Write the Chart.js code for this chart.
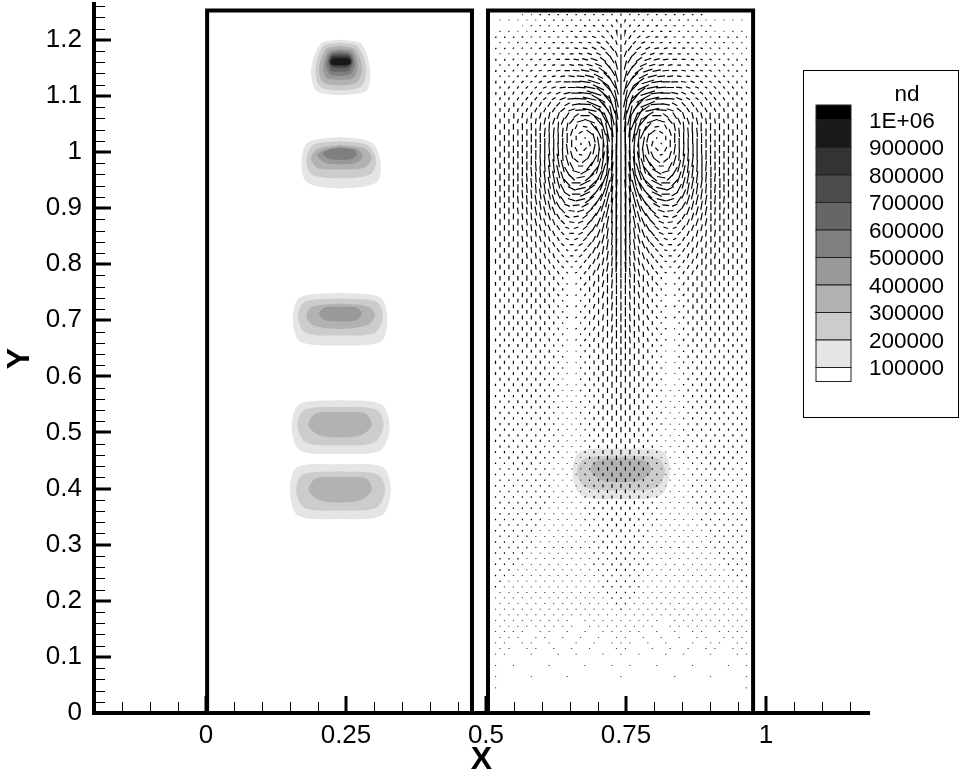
<!DOCTYPE html>
<html><head><meta charset="utf-8">
<style>html,body{margin:0;padding:0;background:#fff}canvas{display:block}</style>
<script src="https://cdn.jsdelivr.net/npm/chart.js@4"></script></head>
<body><canvas id="c" width="965" height="776"></canvas>
<script>
// Axis ticks (data units)
const xMajorTicks=[0,0.25,0.5,0.75,1];
const yMajorTicks=[0,0.1,0.2,0.3,0.4,0.5,0.6,0.7,0.8,0.9,1,1.1,1.2];
const xMinorTicks=[-0.15,-0.1,-0.05,0.05,0.1,0.15,0.2,0.3,0.35,0.4,0.45,0.55,0.6,0.65,0.7,0.8,0.85,0.9,0.95,1.05,1.1,1.15];
const yMinorTicks=[0.02,0.04,0.06,0.08,0.12,0.14,0.16,0.18,0.22,0.24,0.26,0.28,0.32,0.34,0.36,0.38,0.42,0.44,0.46,0.48,0.52,0.54,0.56,0.58,0.62,0.64,0.66,0.68,0.72,0.74,0.76,0.78,0.82,0.84,0.86,0.88,0.92,0.94,0.96,0.98,1.02,1.04,1.06,1.08,1.12,1.14,1.16,1.18,1.22,1.24,1.26];
// Zone frames
const frameLeftX=[0.002,0.475,0.475,0.002,0.002];
const frameRightX=[0.5036,0.977,0.977,0.5036,0.5036];
const frameY=[0,0,1.252,1.252,0];
// Legend
const legendTitle="nd";
const legendLabels=["1E+06","900000","800000","700000","600000","500000","400000","300000","200000","100000"];
const legendColors=["#000000","#191919","#333333","#4c4c4c","#666666","#7f7f7f","#999999","#b2b2b2","#cccccc","#e5e5e5","#ffffff"];
// Contour levels, outermost first: x,y,x,y,...  colours are the legend's
const contourTop=[
[.239,1.200,.277,1.193,.293,1.149,.2875,1.110,.257,1.1025,.221,1.1025,.196,1.110,.188,1.149,.205,1.193],
[.239,1.195,.271,1.188,.286,1.149,.2786,1.118,.257,1.111,.221,1.111,.202,1.118,.1955,1.149,.209,1.188],
[.239,1.190,.266,1.183,.2786,1.149,.271,1.126,.257,1.120,.221,1.120,.207,1.126,.202,1.149,.214,1.183],
[.239,1.184,.2625,1.179,.271,1.152,.264,1.133,.250,1.129,.229,1.129,.214,1.133,.209,1.152,.218,1.179],
[.239,1.181,.259,1.176,.266,1.156,.259,1.140,.246,1.136,.232,1.136,.220,1.140,.214,1.156,.221,1.176],
[.239,1.177,.257,1.174,.2625,1.160,.255,1.145,.245,1.143,.234,1.143,.223,1.145,.218,1.160,.223,1.174],
[.239,1.174,.255,1.172,.261,1.161,.254,1.151,.243,1.149,.236,1.149,.225,1.151,.220,1.161,.225,1.172],
[.239,1.170,.255,1.169,.259,1.161,.254,1.154,.239,1.153,.225,1.154,.221,1.161,.225,1.169],
[.241,1.167,.255,1.166,.259,1.161,.255,1.156,.241,1.155,.225,1.156,.223,1.161,.227,1.166]];
const contourSecond=[
[.239,1.027,.296,1.017,.3116,.985,.305,.946,.239,.935,.180,.946,.1705,.985,.182,1.017],
[.239,1.019,.289,1.012,.304,.985,.293,.960,.239,.953,.189,.960,.179,.985,.191,1.012],
[.239,1.013,.284,1.006,.296,.988,.282,.972,.239,.969,.198,.972,.1875,.990,.200,1.006],
[.239,1.010,.271,1.0045,.280,.992,.268,.981,.239,.978,.2125,.981,.198,.994,.2125,1.0045],
[.239,1.007,.2625,1.0045,.270,.997,.261,.988,.239,.986,.220,.988,.209,.997,.221,1.0045]];
const contourThird=[
[.239,.749,.311,.741,.324,.703,.3125,.662,.239,.655,.168,.662,.155,.703,.168,.741],
[.239,.739,.304,.7335,.316,.707,.302,.678,.239,.673,.177,.678,.164,.707,.177,.7335],
[.239,.730,.289,.7246,.302,.7086,.2875,.691,.239,.6845,.191,.691,.179,.7086,.191,.7246],
[.239,.7246,.268,.723,.2786,.712,.268,.700,.239,.698,.2125,.700,.202,.712,.2125,.723]];
const contourFourth=[
[.239,.558,.314,.550,.328,.507,.311,.468,.239,.462,.168,.468,.153,.507,.166,.550],
[.239,.546,.304,.541,.317,.514,.300,.482,.239,.477,.179,.482,.163,.514,.177,.541],
[.239,.5365,.284,.534,.296,.514,.2786,.496,.239,.491,.200,.496,.183,.514,.196,.534]];
const contourFifth=[
[.239,.444,.316,.438,.330,.3966,.314,.352,.239,.346,.164,.352,.150,.3966,.1625,.438],
[.239,.431,.307,.425,.320,.3966,.304,.366,.239,.361,.175,.366,.161,.3966,.173,.425],
[.239,.4207,.286,.418,.296,.398,.2786,.3806,.239,.375,.200,.3806,.183,.398,.196,.418]];
const contourRight=[
[.741,.4715,.816,.466,.8286,.429,.8125,.388,.741,.3815,.670,.388,.6545,.429,.668,.466],
[.741,.459,.807,.454,.8196,.429,.804,.402,.741,.3966,.679,.402,.6625,.429,.677,.454],
[.741,.454,.782,.450,.796,.434,.7786,.416,.741,.411,.7036,.416,.686,.434,.700,.450]];
const contourSets=[contourTop,contourSecond,contourThird,contourFourth,contourFifth,contourRight];
const contourFirstLevel=[9,9,9,9,9,9];
// Velocity field in the right zone, read by eye. Columns go out from the symmetry axis; the left side mirrors.
const arrowAxis=0.741;
const arrowScale=1.35;
const arrowOffsets=[0,.016,.032,.048,.064,.08,.096,.112,.128,.144,.16,.176,.192,.208,.224];
const arrowYs=[1.245,1.225,1.205,1.185,1.165,1.145,1.125,1.105,1.085,1.065,1.045,1.025,1.005,.985,.965,.945,.925,.905,.885,.865,.845,.825,.805,.785,.765,.745,.725,.705,.685,.665,.645,.625,.605,.585,.565,.545,.525,.505,.485,.465,.445,.425,.405,.385,.365,.345,.325,.305,.285,.265,.245,.225,.205,.185,.165,.145,.125,.105,.085,.065,.045];
const arrowV=[
[-3,-2,-1,-1,0,0,0,0,0,0,0,0,0,0,0],
[-5,-3,-2,-1,-1,0,0,0,0,0,0,0,0,0,0],
[-7,-5,-3,-2,-1,-1,0,0,0,0,0,1,1,1,1],
[-10,-7,-4,-3,-1,-1,0,0,0,1,1,1,1,1,1],
[-14,-10,-6,-3,-2,-1,0,0,1,1,1,1,2,2,2],
[-18,-13,-8,-4,-2,-1,0,1,1,1,2,2,2,2,2],
[-22,-17,-10,-5,-2,0,0,1,2,2,2,3,3,3,3],
[-26,-20,-14,-6,-2,0,2,3,3,3,4,4,4,4,3],
[-28,-24,-17,-8,-1,2,4,5,6,6,6,5,5,5,4],
[-30,-26,-20,-10,0,5,8,9,9,8,8,7,6,6,5],
[-30,-28,-22,-11,-1,6,11,13,13,11,10,9,8,7,6],
[-30,-28,-24,-12,-2,6,13,16,15,13,11,10,9,8,7],
[-30,-28,-24,-14,-4,6,14,18,16,14,12,11,10,9,7],
[-30,-28,-24,-15,-6,5,14,18,17,15,13,11,10,9,8],
[-28,-26,-22,-14,-7,3,12,17,17,15,13,12,10,9,8],
[-24,-24,-20,-12,-7,0,9,15,16,14,13,12,10,9,8],
[-22,-22,-18,-11,-6,0,5,12,14,14,12,11,10,9,8],
[-20,-20,-16,-10,-5,-1,3,9,12,12,11,10,9,8,8],
[-20,-18,-14,-9,-5,-1,3,7,10,10,10,9,8,8,7],
[-18,-17,-13,-9,-5,-2,2,6,8,9,9,8,8,7,7],
[-17,-16,-12,-8,-5,-2,2,5,7,8,8,8,7,7,6],
[-16,-14,-11,-8,-4,-1,2,5,7,7,8,7,7,6,6],
[-14,-13,-10,-7,-4,-1,2,4,6,7,7,7,6,6,6],
[-14,-13,-10,-7,-4,-1,2,4,6,6,7,6,6,6,5],
[-13,-12,-9,-7,-4,-1,1,4,5,6,6,6,6,5,5],
[-12,-11,-9,-6,-3,-1,1,3,5,6,6,6,5,5,5],
[-12,-11,-8,-6,-3,-1,1,3,5,5,6,5,5,5,5],
[-11,-10,-8,-6,-3,-1,1,3,4,5,5,5,5,5,5],
[-11,-10,-8,-5,-3,-1,1,3,4,5,5,5,5,5,4],
[-10,-9,-7,-5,-3,-1,1,3,4,4,5,5,4,4,4],
[-10,-9,-7,-5,-3,-1,1,2,4,4,4,4,4,4,4],
[-9,-9,-7,-5,-3,-1,1,2,3,4,4,4,4,4,4],
[-9,-8,-7,-5,-3,-1,1,2,3,4,4,4,4,4,4],
[-8,-8,-6,-4,-3,-1,1,2,3,4,4,4,4,4,3],
[-8,-7,-6,-4,-2,-1,1,2,3,3,4,4,3,3,3],
[-8,-7,-6,-4,-2,-1,1,2,3,3,3,3,3,3,3],
[-7,-7,-5,-4,-2,-1,1,2,3,3,3,3,3,3,3],
[-7,-6,-5,-4,-2,-1,1,2,3,3,3,3,3,3,3],
[-6,-6,-5,-3,-2,-1,1,2,2,3,3,3,3,3,3],
[-6,-6,-5,-3,-2,-1,1,2,2,3,3,3,3,3,2],
[-6,-5,-4,-3,-2,-1,1,1,2,2,3,3,3,2,2],
[-5,-5,-4,-3,-2,-1,1,1,2,2,2,2,2,2,2],
[-5,-5,-4,-3,-2,-1,1,1,2,2,2,2,2,2,2],
[-5,-4,-4,-3,-2,-1,1,1,2,2,2,2,2,2,2],
[-4,-4,-3,-3,-2,-1,1,1,1,2,2,2,2,2,2],
[-4,-4,-3,-2,-2,-1,1,1,1,2,2,2,2,2,2],
[-4,-3,-3,-2,-1,-1,1,1,1,1,2,2,2,2,2],
[-3,-3,-3,-2,-1,-1,1,1,1,1,2,2,2,2,2],
[-3,-3,-2,-2,-1,-1,1,1,1,1,1,2,2,2,2],
[-3,-3,-2,-2,-1,1,1,1,1,1,1,1,2,2,2],
[-2,-2,-2,-1,-1,1,1,1,1,1,1,1,1,2,2],
[-2,-2,-2,-1,-1,1,1,1,1,1,1,1,1,1,2],
[-2,-2,-1,-1,-1,1,1,1,1,1,1,1,1,1,1],
[-2,-1,-1,-1,-1,1,1,1,1,1,1,1,1,1,1],
[-1,-1,-1,-1,1,0,1,1,1,1,1,1,1,1,1],
[-1,-1,-1,0,1,0,1,0,1,1,0,1,1,1,1],
[-1,-1,0,-1,0,1,0,0,1,0,1,1,0,1,1],
[-1,0,-1,0,0,1,0,1,0,0,1,0,0,1,1],
[0,-1,0,0,1,0,0,0,1,0,0,0,1,0,1],
[-1,0,0,0,0,0,1,0,0,0,1,0,0,0,1],
[0,0,0,0,0,0,0,0,0,0,0,0,0,0,1]];
const arrowU=[
[0,-1,-2,-2,-2,-2,-2,-2,-2,-2,-1,-1,-1,-1,0],
[0,-2,-3,-3,-3,-3,-3,-2,-2,-2,-2,-1,-1,-1,0],
[0,-3,-4,-5,-4,-4,-3,-3,-3,-2,-2,-2,-1,-1,-1],
[0,-5,-6,-6,-6,-5,-4,-4,-3,-3,-2,-2,-2,-1,-1],
[0,-6,-8,-9,-8,-7,-6,-5,-4,-3,-3,-2,-2,-1,-1],
[0,-8,-11,-12,-11,-9,-7,-6,-5,-4,-3,-2,-2,-1,-1],
[0,-10,-14,-16,-14,-12,-9,-7,-5,-4,-3,-3,-2,-1,-1],
[0,-10,-17,-19,-17,-13,-9,-6,-5,-4,-3,-2,-2,-1,-1],
[0,-8,-15,-19,-16,-11,-7,-5,-4,-3,-2,-2,-1,-1,0],
[0,-6,-11,-15,-12,-7,-5,-3,-2,-2,-1,-1,-1,0,0],
[0,-3,-7,-9,-6,-3,-2,-1,-1,-1,0,0,0,0,0],
[0,-1,-3,-3,-1,0,0,0,0,0,0,0,0,0,0],
[0,1,1,3,4,3,2,1,1,0,0,0,0,0,0],
[0,2,4,8,8,6,4,3,2,1,0,0,0,0,0],
[0,3,7,11,12,10,7,4,2,1,1,0,0,0,0],
[0,3,8,13,14,12,8,4,3,2,1,1,0,0,0],
[0,2,7,11,13,11,8,5,3,2,1,1,0,0,0],
[0,2,5,8,9,9,7,5,3,2,1,1,0,0,0],
[0,1,4,6,7,7,6,4,3,2,1,1,0,0,0],
[0,1,3,5,6,6,5,4,3,2,1,1,0,0,0],
[0,1,3,4,5,5,4,3,2,2,1,1,0,0,0],
[0,1,2,4,4,4,3,3,2,1,1,0,0,0,0],
[0,1,2,3,3,3,3,2,2,1,1,0,0,0,0],
[0,1,2,3,3,3,2,2,2,1,1,0,0,0,0],
[0,1,2,2,3,2,2,2,1,1,0,0,0,0,0],
[0,1,2,2,2,2,2,2,1,1,0,0,0,0,0],
[0,1,1,2,2,2,2,1,1,1,0,0,0,0,0],
[0,1,1,2,2,2,2,1,1,1,0,0,0,0,0],
[0,1,1,2,2,2,1,1,1,0,0,0,0,0,0],
[0,1,1,1,2,2,1,1,1,0,0,0,0,0,0]];
// Second set of arrows: columns between those above, rows half a step lower, so the two sets interleave.
const arrowOffsetsB=[.008,.024,.04,.056,.072,.088,.104,.12,.136,.152,.168,.184,.2,.216];
const arrowYsB=[1.235,1.215,1.195,1.175,1.155,1.135,1.115,1.095,1.075,1.055,1.035,1.015,.995,.975,.955,.935,.915,.895,.875,.855,.835,.815,.795,.775,.755,.735,.715,.695,.675,.655,.635,.615,.595,.575,.555,.535,.515,.495,.475,.455,.435,.415,.395,.375,.355,.335,.315,.295,.275,.255,.235,.215,.195,.175,.155,.135,.115];
const arrowVB=[
[-2,-1,-1,0,0,0,0,0,0,0,0,0,0,0],
[-4,-2,-1,-1,0,0,0,0,0,0,0,0,1,1],
[-6,-4,-2,-1,-1,0,0,0,0,0,1,1,1,1],
[-8,-5,-3,-2,-1,0,0,0,1,1,1,1,1,1],
[-12,-8,-4,-2,-1,-1,0,1,1,1,1,2,2,2],
[-15,-10,-6,-3,-1,-1,1,1,1,2,2,2,2,2],
[-19,-13,-7,-3,-1,0,1,2,2,2,3,3,3,3],
[-23,-17,-10,-4,-1,1,3,3,3,4,4,4,4,4],
[-26,-20,-12,-4,1,3,5,6,6,6,5,5,5,5],
[-28,-23,-15,-5,3,7,9,9,9,8,7,6,6,6],
[-29,-25,-17,-6,3,9,12,13,12,10,9,8,8,7],
[-29,-26,-18,-7,2,10,15,16,14,12,10,9,9,8],
[-29,-26,-19,-9,1,10,16,17,15,13,11,10,9,8],
[-29,-26,-20,-10,0,10,16,18,16,14,12,10,9,8],
[-27,-24,-18,-10,-2,8,15,17,16,14,12,11,10,9],
[-24,-22,-16,-10,-3,5,12,16,15,13,12,11,10,9],
[-22,-20,-15,-9,-3,3,9,13,14,13,12,10,9,9],
[-20,-18,-13,-8,-3,1,6,11,12,12,10,9,9,8],
[-19,-16,-12,-7,-3,1,5,8,10,10,9,9,8,8],
[-18,-15,-11,-7,-3,0,4,7,9,9,9,8,8,7],
[-16,-14,-10,-6,-3,0,3,6,8,8,8,8,7,7],
[-15,-13,-9,-6,-3,0,3,6,7,8,8,7,7,6],
[-14,-12,-9,-6,-3,0,3,5,6,7,7,7,6,6],
[-14,-12,-9,-6,-3,0,3,5,6,6,7,6,6,6],
[-13,-11,-8,-6,-3,0,3,5,6,6,6,6,5,5],
[-12,-10,-8,-5,-2,0,2,4,6,6,6,5,5,5],
[-12,-10,-7,-5,-2,0,2,4,5,6,5,5,5,5],
[-11,-9,-7,-5,-2,0,2,4,5,5,5,5,5,5],
[-11,-9,-7,-4,-2,0,2,3,5,5,5,5,5,4],
[-10,-8,-6,-4,-2,0,2,3,4,5,5,4,4,4],
[-9,-8,-6,-4,-2,0,2,3,4,4,4,4,4,4],
[-9,-8,-6,-4,-2,0,2,3,4,4,4,4,4,4],
[-9,-7,-6,-4,-2,0,1,3,3,4,4,4,4,4],
[-8,-7,-5,-4,-2,1,1,3,3,4,4,4,4,3],
[-8,-7,-5,-3,-2,1,1,2,3,4,4,4,3,3],
[-7,-6,-5,-3,-2,1,1,2,3,3,3,3,3,3],
[-7,-6,-5,-3,-2,1,1,2,3,3,3,3,3,3],
[-6,-6,-4,-3,-1,1,1,2,3,3,3,3,3,3],
[-6,-5,-4,-3,-1,1,1,2,2,3,3,3,3,3],
[-6,-5,-4,-3,-1,1,1,2,2,3,3,3,3,2],
[-5,-5,-4,-2,-1,1,1,1,2,2,3,3,2,2],
[-5,-4,-3,-2,-1,1,1,1,2,2,2,2,2,2],
[-5,-4,-3,-2,-1,1,1,1,2,2,2,2,2,2],
[-4,-4,-3,-2,-1,1,1,1,2,2,2,2,2,2],
[-4,-3,-3,-2,-1,1,1,1,1,2,2,2,2,2],
[-4,-3,-2,-2,-1,1,1,1,1,2,2,2,2,2],
[-3,-3,-2,-1,-1,1,1,1,1,1,2,2,2,2],
[-3,-3,-2,-1,-1,1,1,1,1,1,2,2,2,2],
[-3,-2,-2,-1,-1,1,1,1,1,1,1,2,2,2],
[-3,-2,-2,-1,1,1,1,1,1,1,1,1,2,2],
[-2,-2,-1,-1,1,1,1,1,1,1,1,1,1,2],
[-2,-2,-1,-1,1,1,1,1,1,1,1,1,1,1],
[-2,-1,-1,-1,1,1,1,1,1,1,1,1,1,1],
[-1,-1,-1,1,1,1,1,1,1,1,1,1,1,1],
[-1,-1,1,1,0,1,1,1,1,1,1,1,1,1],
[-1,0,1,0,1,0,1,0,1,1,0,1,1,1],
[-1,0,0,1,0,1,0,1,0,1,1,0,1,1]];
const arrowUB=[
[-1,-2,-2,-2,-2,-2,-2,-2,-2,-1,-1,-1,-1,-1],
[-1,-3,-3,-3,-3,-3,-2,-2,-2,-2,-1,-1,-1,-1],
[-2,-4,-5,-4,-4,-3,-3,-3,-2,-2,-2,-2,-1,-1],
[-3,-5,-6,-6,-5,-5,-4,-3,-3,-2,-2,-2,-1,-1],
[-3,-7,-9,-8,-7,-6,-5,-4,-3,-3,-2,-2,-1,-1],
[-4,-10,-12,-12,-10,-8,-6,-5,-4,-3,-2,-2,-1,-1],
[-5,-12,-15,-15,-13,-10,-8,-6,-5,-3,-3,-2,-2,-1],
[-5,-14,-18,-18,-15,-11,-8,-5,-4,-3,-3,-2,-1,-1],
[-4,-12,-17,-18,-14,-9,-6,-4,-3,-3,-2,-1,-1,0],
[-3,-9,-13,-14,-10,-6,-4,-3,-2,-1,-1,-1,0,0],
[-1,-5,-8,-8,-5,-3,-1,-1,-1,0,0,0,0,0],
[0,-2,-3,-2,-1,0,0,0,0,0,0,0,0,0],
[1,1,2,4,4,3,1,1,0,0,0,0,0,0],
[1,3,6,8,7,5,4,2,1,1,0,0,0,0],
[1,5,9,12,11,8,5,3,2,1,1,0,0,0],
[2,6,11,14,13,10,6,3,2,1,1,0,0,0],
[1,5,9,12,12,10,6,4,3,2,1,1,0,0],
[1,4,7,9,9,8,6,4,3,2,1,1,0,0],
[1,3,5,7,7,7,5,3,3,2,1,0,0,0],
[1,2,4,6,6,6,4,3,2,1,1,0,0,0],
[1,2,4,5,5,5,4,3,2,1,1,0,0,0],
[1,2,3,4,4,4,3,2,2,1,1,0,0,0],
[1,2,3,3,3,3,3,2,2,1,0,0,0,0]];

function contourPoints(flat){
  const pts=[];
  for(let i=0;i<flat.length;i+=2)pts.push({x:flat[i],y:flat[i+1]});
  pts.push({x:flat[0],y:flat[1]});
  return pts;
}
function framePoints(xs,ys){return xs.map((x,i)=>({x,y:ys[i]}));}
function arrowPoints(){
  const pts=[];
  const k=arrowScale/2000;
  const add=(x,y,u,v)=>{
    pts.push({x:x-u*k,y:y-v*k},{x:x+u*k,y:y+v*k},{x:x,y:NaN});
  };
  const lattice=(offsets,ys,vs,us)=>{
    vs.forEach((row,r)=>{
      const y=ys[r];
      offsets.forEach((off,c)=>{
        const v=row[c];
        const u=us[r]?us[r][c]:0;
        if(u===0&&v===0)return;
        add(arrowAxis+off,y,u,v);
        if(off>0)add(arrowAxis-off,y,-u,v);
      });
    });
  };
  lattice(arrowOffsets,arrowYs,arrowV,arrowU);
  lattice(arrowOffsetsB,arrowYsB,arrowVB,arrowUB);
  return pts;
}
const datasets=[];
contourSets.forEach((set,s)=>{
  set.forEach((flat,i)=>{
    datasets.push({data:contourPoints(flat),showLine:true,fill:'shape',tension:0.3,borderWidth:0,
      borderColor:'rgba(0,0,0,0)',backgroundColor:legendColors[contourFirstLevel[s]-i],pointRadius:0});
  });
});
datasets.push({data:arrowPoints(),showLine:true,fill:false,tension:0,borderWidth:1.2,borderColor:'#000',pointRadius:0,spanGaps:false,borderCapStyle:'butt'});
datasets.push({data:framePoints(frameLeftX,frameY),showLine:true,fill:false,tension:0,borderWidth:4,borderColor:'#000',pointRadius:0,borderJoinStyle:'miter',clip:false});
datasets.push({data:framePoints(frameRightX,frameY),showLine:true,fill:false,tension:0,borderWidth:4,borderColor:'#000',pointRadius:0,borderJoinStyle:'miter',clip:false});
datasets.forEach((d,i)=>{d.order=datasets.length-i;});

const innerTicks={id:'innerTicks',afterDatasetsDraw(chart){
  const {ctx,scales:{x,y}}=chart;
  const bottom=y.getPixelForValue(0), left=chart.chartArea.left;
  const seg=(x1,y1,x2,y2,w)=>{ctx.lineWidth=w;ctx.beginPath();ctx.moveTo(x1,y1);ctx.lineTo(x2,y2);ctx.stroke();};
  ctx.save();ctx.strokeStyle='#000';
  yMinorTicks.forEach(v=>{const p=Math.round(y.getPixelForValue(v))+.5;seg(left,p,left+11,p,1);});
  yMajorTicks.forEach(v=>{const p=Math.round(y.getPixelForValue(v));seg(left,p,left+17,p,3);});
  xMinorTicks.forEach(v=>{const p=Math.round(x.getPixelForValue(v))+.5;seg(p,bottom,p,bottom-11,1);});
  xMajorTicks.forEach(v=>{const p=Math.round(x.getPixelForValue(v));seg(p,bottom,p,bottom-17,3);});
  ctx.restore();
}};
const contourLegend={id:'contourLegend',afterDraw(chart){
  const ctx=chart.ctx;
  ctx.save();
  ctx.strokeStyle='#000';ctx.lineWidth=1;
  ctx.fillStyle='#fff';ctx.fillRect(803.5,70.5,155,347);ctx.strokeRect(803.5,70.5,155,347);
  const tops=[105,120,147.5,175,202.5,230,257.5,285,312.5,340,367.5];
  const end=381.5;
  legendColors.forEach((c,i)=>{
    const t=tops[i],b=i+1<tops.length?tops[i+1]:end;
    ctx.fillStyle=c;ctx.fillRect(816,t,35,b-t);
    ctx.strokeStyle='#222';ctx.strokeRect(816,t,35,b-t);
  });
  ctx.fillStyle='#000';ctx.font='22.5px "Liberation Sans"';ctx.textBaseline='middle';
  ctx.textAlign='center';ctx.fillText(legendTitle,907,95);
  ctx.textAlign='left';
  legendLabels.forEach((l,i)=>ctx.fillText(l,869,tops[i+1]+1.5));
  ctx.restore();
}};
const tickText=v=>String(v);
new Chart(document.getElementById('c'),{
  type:'scatter',
  data:{datasets},
  plugins:[innerTicks,contourLegend],
  options:{
    responsive:false,animation:false,
    layout:{padding:{top:4,right:96,left:0,bottom:0}},
    plugins:{legend:{display:false},tooltip:{enabled:false},title:{display:false}},
    scales:{
      x:{type:'linear',min:-0.2,max:1.184,
        afterBuildTicks:a=>{a.ticks=xMajorTicks.map(v=>({value:v}));},
        afterFit:s=>{s.height=63;s.paddingLeft=0;s.paddingRight=0;},
        border:{display:true,width:4,color:'#000'},
        grid:{display:true,drawOnChartArea:false,drawTicks:false},
        ticks:{color:'#000',font:{family:'"Liberation Sans"',size:26},padding:7,maxRotation:0,autoSkip:false,callback:tickText},
        title:{display:true,text:'X',color:'#000',font:{family:'"Liberation Sans"',size:32,weight:'bold',lineHeight:1},padding:0}},
      y:{type:'linear',min:0,max:1.2638,
        afterBuildTicks:a=>{a.ticks=yMajorTicks.map(v=>({value:v}));},
        afterFit:s=>{s.width=94;s.paddingTop=0;s.paddingBottom=0;},
        border:{display:true,width:4,color:'#000'},
        grid:{display:true,drawOnChartArea:false,drawTicks:false},
        ticks:{color:'#000',font:{family:'"Liberation Sans"',size:26},padding:12,maxRotation:0,autoSkip:false,callback:tickText},
        title:{display:true,text:'Y',color:'#000',font:{family:'"Liberation Sans"',size:32,weight:'bold',lineHeight:1},padding:4}}
    }
  }
});
</script></body></html>
